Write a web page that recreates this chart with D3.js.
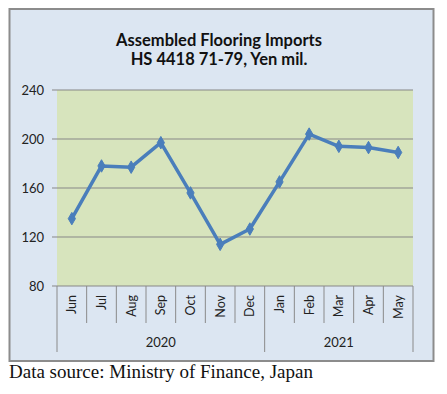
<!DOCTYPE html>
<html><head><meta charset="utf-8">
<script src="https://cdn.jsdelivr.net/npm/d3@7"></script>
<style>body{margin:0;background:#fff;}svg{display:block;}</style>
</head><body>
<svg id="c" width="447" height="394"></svg>
<script>
const months = ["Jun","Jul","Aug","Sep","Oct","Nov","Dec","Jan","Feb","Mar","Apr","May"];
const years = [{label:"2020", from:0, to:7},{label:"2021", from:7, to:12}];
const values = [135,178,177,197,156,114,126.5,165,204,194,193,189];
const yTicks = [80,120,160,200,240];
const titleLines = ["Assembled Flooring Imports","HS 4418 71-79, Yen mil."];
const source = "Data source: Ministry of Finance, Japan";

const svg = d3.select("#c");
const font = "Lato, 'Open Sans', sans-serif";
// frame
svg.append("rect").attr("x",9.5).attr("y",9).attr("width",424).attr("height",352)
  .attr("fill","#dce6f2").attr("stroke","#8c8c8c").attr("stroke-width",2);

const x0=57, x1=413, yTop=90, yBot=286;
const x = d3.scaleBand().domain(d3.range(months.length)).range([x0,x1]);
const y = d3.scaleLinear().domain([80,240]).range([yBot,yTop]);

svg.append("rect").attr("x",x0).attr("y",yTop).attr("width",x1-x0).attr("height",yBot-yTop).attr("fill","#d7e4bd");

// grid
svg.append("g").selectAll("line").data(yTicks).join("line")
  .attr("x1",x0-5).attr("x2",x1).attr("y1",d=>y(d)).attr("y2",d=>y(d))
  .attr("stroke","#878787").attr("stroke-width",1);
svg.append("g").selectAll("text").data(yTicks).join("text")
  .attr("x",44).attr("y",d=>y(d)+4.5).attr("text-anchor","end")
  .attr("font-family",font).attr("font-size",13).attr("fill","#222").text(d=>d);

// category separators
const seps = d3.range(months.length+1);
const yearBounds = new Set(years.flatMap(d=>[d.from,d.to]));
svg.append("g").selectAll("line").data(seps).join("line")
  .attr("x1",i=>i<months.length?x(i):x1).attr("x2",i=>i<months.length?x(i):x1)
  .attr("y1",yBot).attr("y2",i=>yearBounds.has(i)?352:323)
  .attr("stroke","#8a8a8a").attr("stroke-width",1);

svg.append("g").selectAll("text").data(months).join("text")
  .attr("transform",(d,i)=>`translate(${x(i)+x.bandwidth()/2+4.5},295) rotate(-90)`)
  .attr("text-anchor","end").attr("font-family",font).attr("font-size",12.5).attr("fill","#222").text(d=>d);

svg.append("g").selectAll("text").data(years).join("text")
  .attr("x",d=>(x(d.from)+(d.to<months.length?x(d.to):x1))/2).attr("y",347)
  .attr("text-anchor","middle").attr("font-family",font).attr("font-size",13).attr("fill","#222").text(d=>d.label);

// line
const line = d3.line().x((d,i)=>x(i)+x.bandwidth()/2).y(d=>y(d));
svg.append("path").datum(values).attr("d",line).attr("fill","none")
  .attr("stroke","#4a7ebb").attr("stroke-width",3.5).attr("stroke-linejoin","round");
svg.append("g").selectAll("path").data(values).join("path")
  .attr("d",d3.symbol(d3.symbolDiamond,45))
  .attr("transform",(d,i)=>`translate(${x(i)+x.bandwidth()/2},${y(d)})`)
  .attr("fill","#4a7ebb").attr("stroke","#4a7ebb");

// title
svg.append("g").selectAll("text").data(titleLines).join("text")
  .attr("x",219).attr("y",(d,i)=>46+i*19).attr("text-anchor","middle")
  .attr("font-family",font).attr("font-weight","bold").attr("font-size",16.5).attr("fill","#111").text(d=>d);

svg.append("text").attr("x",9).attr("y",378).attr("font-family","'Liberation Serif','Times New Roman',serif")
  .attr("font-size",19).attr("fill","#111").text(source);
</script>
</body></html>
